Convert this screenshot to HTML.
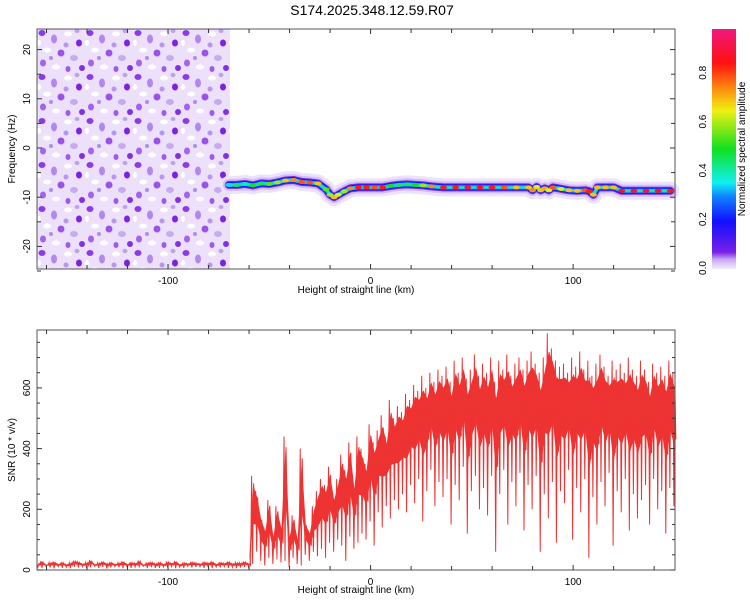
<!DOCTYPE html>
<html><head><meta charset="utf-8">
<style>
body{margin:0;background:#fff;}
svg{display:block;font-family:"Liberation Sans",sans-serif;}
</style></head>
<body>
<svg id="chart" width="750" height="600" viewBox="0 0 750 600" xmlns="http://www.w3.org/2000/svg">
<defs>
  <linearGradient id="cmap" x1="0" y1="1" x2="0" y2="0">
    <stop offset="0" stop-color="#f4ecfc"/>
    <stop offset="0.04" stop-color="#c9a6f2"/>
    <stop offset="0.07" stop-color="#7a1fe8"/>
    <stop offset="0.2" stop-color="#1010ff"/>
    <stop offset="0.3" stop-color="#1080ff"/>
    <stop offset="0.36" stop-color="#10f0f0"/>
    <stop offset="0.5" stop-color="#10e020"/>
    <stop offset="0.66" stop-color="#f0f010"/>
    <stop offset="0.76" stop-color="#ff8010"/>
    <stop offset="0.86" stop-color="#ff1010"/>
    <stop offset="1" stop-color="#f01880"/>
  </linearGradient>
  <pattern id="noise" x="37" y="29" width="48" height="44" patternUnits="userSpaceOnUse">
    <rect width="48" height="44" fill="#ece0fb"/>
    <ellipse cx="5" cy="4" rx="3.5" ry="3" fill="#8a3ae6"/>
    <ellipse cx="17" cy="10" rx="3" ry="4.5" fill="#b486f0"/>
    <ellipse cx="31" cy="5" rx="4" ry="2.5" fill="#fff"/>
    <ellipse cx="42" cy="14" rx="3" ry="3.5" fill="#7a22e6"/>
    <ellipse cx="10" cy="21" rx="4" ry="2.5" fill="#fff"/>
    <ellipse cx="24" cy="24" rx="3.5" ry="3.5" fill="#9a52ea"/>
    <ellipse cx="37" cy="29" rx="4" ry="3" fill="#c8aaf4"/>
    <ellipse cx="6" cy="34" rx="3" ry="3.5" fill="#a264ee"/>
    <ellipse cx="19" cy="38" rx="4" ry="2.5" fill="#fff"/>
    <ellipse cx="45" cy="39" rx="3" ry="3" fill="#8230e6"/>
    <ellipse cx="29" cy="16" rx="2.5" ry="2.5" fill="#b894f2"/>
    <ellipse cx="31" cy="40" rx="2.5" ry="3" fill="#9c5aec"/>
    <ellipse cx="40" cy="2" rx="2.5" ry="2" fill="#c0a0f2"/>
    <ellipse cx="2" cy="14" rx="2" ry="3" fill="#fff"/>
    <ellipse cx="14" cy="29" rx="2" ry="2" fill="#b48af0"/>
  </pattern>
</defs>
<text x="372" y="15" font-size="14" text-anchor="middle">S174.2025.348.12.59.R07</text>

<g id="topPanel">
  <rect x="37" y="29" width="193" height="240" fill="url(#noise)"/>
  <g id="ridge"></g>
  <rect x="37" y="29" width="638" height="240" fill="none" stroke="#555" stroke-width="1"/>
  <g id="topAxes"></g>
  <text x="356" y="293" font-size="10" text-anchor="middle">Height of straight line (km)</text>
  <text transform="translate(15,149) rotate(-90)" font-size="10" text-anchor="middle">Frequency (Hz)</text>
</g>

<g id="cbar">
  <rect x="712" y="29" width="24" height="240" fill="url(#cmap)"/>
  <g id="cbarAxis"></g>
  <text transform="translate(745,149) rotate(-90)" font-size="10" text-anchor="middle">Normalized spectral amplitude</text>
</g>

<g id="bottomPanel">
  <g id="snr"></g>
  <rect x="37" y="330" width="638" height="240" fill="none" stroke="#555" stroke-width="1"/>
  <g id="botAxes"></g>
  <text x="356" y="593" font-size="10" text-anchor="middle">Height of straight line (km)</text>
  <text transform="translate(15,450) rotate(-90)" font-size="10" text-anchor="middle">SNR (10 * v/v)</text>
</g>
</svg>
<script>
// ---- data ----
const xTicks = [-100, 0, 100];
const freqTicks = [-20, -10, 0, 10, 20];
const snrTicks = [0, 200, 400, 600];
const cbarTicks = [0.0, 0.2, 0.4, 0.6, 0.8];

const ridgeHeight = [-70,-66,-62,-58,-54,-50,-46,-42,-38,-34,-30,-26,-22,-20,-18,-16,-13,-10,-6,-2,2,6,10,14,18,22,26,30,36,42,48,54,60,66,72,78,80,82,84,86,88,90,94,98,102,106,108,110,112,116,120,124,130,136,142,148];
const ridgeFreq =   [-7.5,-7.5,-7.3,-7.6,-7.2,-7.3,-7.0,-6.6,-6.5,-6.9,-7.0,-7.2,-8.4,-9.5,-10.0,-9.5,-8.8,-8.2,-8.0,-8.0,-8.0,-8.0,-7.7,-7.5,-7.4,-7.5,-7.6,-7.8,-8.0,-8.0,-8.0,-8.0,-8.0,-8.0,-8.0,-8.0,-8.6,-7.9,-8.6,-8.2,-8.6,-8.0,-8.3,-8.6,-8.7,-8.6,-8.8,-9.5,-8.0,-8.0,-8.0,-8.7,-8.7,-8.7,-8.7,-8.7];
const ridgeAmp =    [0.35,0.45,0.4,0.5,0.45,0.55,0.6,0.7,0.75,0.8,0.8,0.7,0.55,0.6,0.7,0.65,0.6,0.75,0.85,0.85,0.8,0.85,0.5,0.45,0.45,0.5,0.6,0.75,0.85,0.85,0.9,0.88,0.85,0.8,0.7,0.7,0.75,0.65,0.7,0.72,0.65,0.8,0.65,0.7,0.7,0.8,0.85,0.7,0.7,0.7,0.7,0.88,0.9,0.9,0.88,0.85];

const snrHeight0 = -164, snrStep = 2;
const snrHigh = [22,30,18,25,28,20,26,19,24,31, 27,21,25,33,19,24,28,22,26,20, 24,29,20,26,23,31,18,25,27,22, 26,20,28,23,30,19,25,22,27,24, 21,27,24,29,20,26,23,28,22,25,
 24,28,22,310,260,180,140,230,120,210, 150,440,120,180,110,400,160,130,210,260, 300,280,340,250,300,380,330,420,290,440,
 400,350,480,420,460,510,440,560,500,540, 520,580,560,610,590,640,600,650,620,660, 640,670,620,690,650,700,630,660,710,640,
 680,650,700,620,690,660,710,640,680,700, 660,690,720,680,650,700,780,730,690,670, 680,650,700,670,720,660,690,640,680,710,
 670,640,690,660,680,650,700,660,640,690, 660,620,680,650,670,640,690,650];
const snrLow = [10,6,12,8,5,11,7,9,6,10, 8,11,6,9,12,7,10,5,8,11, 9,6,11,7,10,8,12,6,9,7, 7,10,8,11,6,9,7,12,8,10, 11,7,9,6,10,8,11,7,9,6,
 8,10,9,20,60,30,15,40,20,35, 25,30,10,40,20,15,50,30,60,45, 70,40,90,60,100,80,30,110,70,90,
 120,100,160,80,190,140,210,170,230,200, 250,190,280,220,300,160,260,330,210,290, 240,300,150,280,230,340,120,260,310,200,
 270,180,310,60,250,330,150,290,210,320, 130,280,200,310,60,250,170,290,90,260, 220,330,100,270,190,300,40,240,150,290,
 210,320,80,260,190,300,130,250,170,230, 280,150,300,200,260,120,270,210];

// ---- scales ----
const X0=37, X1=675, KM0=-164.7, KM1=150.3;
const xs = v => X0 + (v-KM0)/(KM1-KM0)*(X1-X0);
const fy = v => 148 - v*4.92;
const sy = v => 570 - v*0.3035;
const cy = v => 268 - v*244;
const NS="http://www.w3.org/2000/svg";
function mk(tag, attrs, parent){const e=document.createElementNS(NS,tag);for(const k in attrs)e.setAttribute(k,attrs[k]);parent.appendChild(e);return e;}

function cmap(a){
  const stops=[[0.05,[122,31,232]],[0.2,[16,16,255]],[0.3,[16,128,255]],[0.36,[16,240,240]],[0.5,[16,224,32]],[0.66,[240,240,16]],[0.76,[255,128,16]],[0.86,[255,16,16]],[1,[240,24,128]]];
  if(a<=stops[0][0])return 'rgb('+stops[0][1].join(',')+')';
  for(let i=1;i<stops.length;i++){if(a<=stops[i][0]){const t=(a-stops[i-1][0])/(stops[i][0]-stops[i-1][0]);const c=stops[i-1][1].map((v,j)=>Math.round(v+(stops[i][1][j]-v)*t));return 'rgb('+c.join(',')+')';}}
  return 'rgb(240,24,128)';
}

// ---- ridge ----
const ridgeG=document.getElementById('ridge');
const pts=ridgeHeight.map((h,i)=>xs(h)+','+fy(ridgeFreq[i])).join(' ');
[[18,'#ece2fb'],[12,'#d2bcf5'],[8,'#7a28e8'],[6,'#1010ff'],[4,'#10b0ff'],[2,'#20e8a0']].forEach((s,k)=>{
  const p=mk('polyline',{points:pts,fill:'none',stroke:s[1],'stroke-width':s[0],'stroke-linejoin':'round','stroke-linecap':'round'},ridgeG);
  
  
});
ridgeHeight.forEach((h,i)=>{
  const c=mk('ellipse',{cx:xs(h),cy:fy(ridgeFreq[i]),rx:3.5,ry:2,fill:cmap(ridgeAmp[i])},ridgeG);
  
  
});

// ---- snr ----
const sg=document.getElementById('snr');
let topD='', botD='';
snrHigh.forEach((v,i)=>{const x=xs(snrHeight0+i*snrStep);
  topD+=(i?'L':'M')+x+','+sy(v*0.9+snrLow[i]*0.1);});
for(let i=snrHigh.length-1;i>=0;i--){const x=xs(snrHeight0+i*snrStep);
  botD+='L'+x+','+sy(snrLow[i]*0.55+snrHigh[i]*0.45);}
const body=mk('path',{d:topD+botD+'Z',fill:'#ee3333',stroke:'none'},sg);


let d='';
snrHigh.forEach((v,i)=>{const x=xs(snrHeight0+i*snrStep),lo=snrLow[i];
  d+=(i?'L':'M')+(x-1.5)+','+sy(v)+'L'+(x-0.5)+','+sy(lo)+'L'+(x+0.5)+','+sy(v*0.92)+'L'+(x+1.5)+','+sy((v+lo)/2);});
const line=mk('path',{d:d,fill:'none',stroke:'#ee3333','stroke-width':1,'stroke-linejoin':'miter'},sg);



// ---- axes ----
function xAxis(g,yTop,yBot,labelY){
  for(let v=-160;v<=150;v+=20){
    const x=xs(v), major=xTicks.includes(v), L=major?5:4;
    mk('line',{x1:x,y1:yBot,x2:x,y2:yBot-L,stroke:'#333'},g);
    mk('line',{x1:x,y1:yTop,x2:x,y2:yTop+L,stroke:'#333'},g);
  }
  xTicks.forEach(v=>{const t=mk('text',{x:xs(v),y:labelY,'font-size':10,'text-anchor':'middle'},g);t.textContent=v;
    
    });
}
const ta=document.getElementById('topAxes');
xAxis(ta,29,269,284);
for(let v=-25;v<=24;v+=5){const y=fy(v),major=freqTicks.includes(v),L=major?5:4;
  mk('line',{x1:37,y1:y,x2:37+L,y2:y,stroke:'#333'},ta);mk('line',{x1:675,y1:y,x2:675-L,y2:y,stroke:'#333'},ta);}
freqTicks.forEach(v=>{const t=mk('text',{transform:'translate(30,'+fy(v)+') rotate(-90)','font-size':10,'text-anchor':'middle'},ta);t.textContent=v;
  
  });

const ba=document.getElementById('botAxes');
xAxis(ba,330,570,585);
for(let v=0;v<=750;v+=50){const y=sy(v),major=snrTicks.includes(v),L=major?5:3;
  mk('line',{x1:37,y1:y,x2:37+L,y2:y,stroke:'#333'},ba);mk('line',{x1:675,y1:y,x2:675-L,y2:y,stroke:'#333'},ba);}
snrTicks.forEach(v=>{const t=mk('text',{transform:'translate(30,'+sy(v)+') rotate(-90)','font-size':10,'text-anchor':'middle'},ba);t.textContent=v;
  
  });

const ca=document.getElementById('cbarAxis');
cbarTicks.forEach(v=>{const t=mk('text',{transform:'translate(706,'+cy(v)+') rotate(-90)','font-size':10,'text-anchor':'middle'},ca);t.textContent=v.toFixed(1);
  
  });
</script>
</body></html>
